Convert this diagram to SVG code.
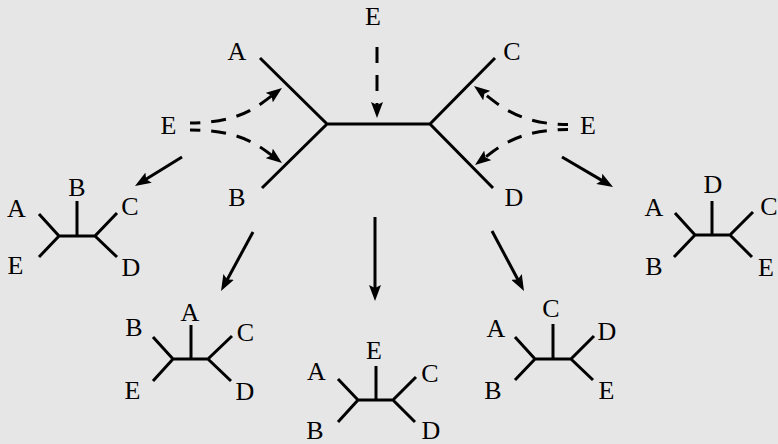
<svg xmlns="http://www.w3.org/2000/svg" width="778" height="444" viewBox="0 0 778 444">
<style>
.t{font-size:26px;fill:#000;text-anchor:middle}
.br{fill:none;stroke:#000;stroke-width:3}
.ar{fill:none;stroke:#000;stroke-width:3;marker-end:url(#ah)}
.da{fill:none;stroke:#000;stroke-width:3;stroke-dasharray:15 11;stroke-dashoffset:5;marker-end:url(#ah)}
</style>
<defs>
<marker id="ah" viewBox="0 0 16 12" refX="6" refY="6" markerWidth="16" markerHeight="12" markerUnits="userSpaceOnUse" orient="auto">
<path d="M0,0 L16,6 L0,12 L3,6 Z" fill="#000"/>
</marker>
</defs>
<rect width="778" height="444" fill="#e6e6e6"/>
<g font-family="Liberation Serif, Times New Roman, Times, serif">
<g id="main-tree">
<path class="br" d="M260,58 L327,124 L262,188 M327,124 L430,124 M495,58 L430,124 L493,188"/>
<text class="t" x="237" y="60">A</text>
<text class="t" x="237" y="206">B</text>
<text class="t" x="512" y="60">C</text>
<text class="t" x="514" y="206">D</text>
</g>
<g id="e-top"><text class="t" x="373" y="25">E</text></g>
<g id="e-left"><text class="t" x="168.5" y="134">E</text></g>
<g id="e-right"><text class="t" x="588" y="134">E</text></g>

<g id="tree-left">
<path class="br" d="M39,214 L59,236 L39,257 M59,236 L95,236 M117,213 L95,236 L117,257 M77,236 L77,201"/>
<text class="t" x="16.5" y="217">A</text>
<text class="t" x="77" y="196">B</text>
<text class="t" x="130" y="215">C</text>
<text class="t" x="15.5" y="274">E</text>
<text class="t" x="131" y="276">D</text>
</g>

<g id="tree-right">
<path class="br" d="M675,213 L695,235 L674,257 M695,235 L730,235 M753,212 L730,235 L752,257 M712,235 L712,201"/>
<text class="t" x="654" y="216">A</text>
<text class="t" x="713" y="193">D</text>
<text class="t" x="769" y="215">C</text>
<text class="t" x="654" y="275">B</text>
<text class="t" x="766" y="276">E</text>
</g>

<g id="tree-bottom-left">
<path class="br" d="M153,337 L173,359 L153,381 M173,359 L208,359 M232,336 L208,359 L231,381 M191,359 L191,325"/>
<text class="t" x="134" y="336">B</text>
<text class="t" x="190" y="321">A</text>
<text class="t" x="245.5" y="341">C</text>
<text class="t" x="132.5" y="399">E</text>
<text class="t" x="245" y="400">D</text>
</g>

<g id="tree-bottom-center">
<path class="br" d="M338,379 L358,400 L338,422 M358,400 L393,400 M416,377 L393,400 L415,422 M376,400 L376,366"/>
<text class="t" x="374" y="359">E</text>
<text class="t" x="316.5" y="380">A</text>
<text class="t" x="430" y="382">C</text>
<text class="t" x="315" y="439">B</text>
<text class="t" x="431" y="439">D</text>
</g>

<g id="tree-bottom-right">
<path class="br" d="M515,337 L535,359 L515,380 M535,359 L571,359 M594,336 L571,359 L593,380 M553,359 L553,324"/>
<text class="t" x="551" y="317">C</text>
<text class="t" x="496" y="337">A</text>
<text class="t" x="607" y="340">D</text>
<text class="t" x="493" y="399">B</text>
<text class="t" x="606.5" y="399">E</text>
</g>
</g>
<g id="connectors">
<path class="da" d="M377,47 L377,108" style="stroke-dasharray:16 12;stroke-dashoffset:0"/>
<path class="da" d="M190,123 C240,123 258,106 274,94"/>
<path class="da" d="M190,130 C240,130 258,145 274,157"/>
<path class="da" d="M568,124.5 C518,124.5 498,104 482,92"/>
<path class="da" d="M568,129.5 C518,129.5 499,147 483,159"/>
<path class="ar" d="M182,157 L143.5,180.8"/>
<path class="ar" d="M562,157 L604.4,181.9"/>
<path class="ar" d="M253,232 L225.8,282.2"/>
<path class="ar" d="M375,217 L375,291"/>
<path class="ar" d="M492,231 L519.3,282.2"/>
</g>
</svg>
